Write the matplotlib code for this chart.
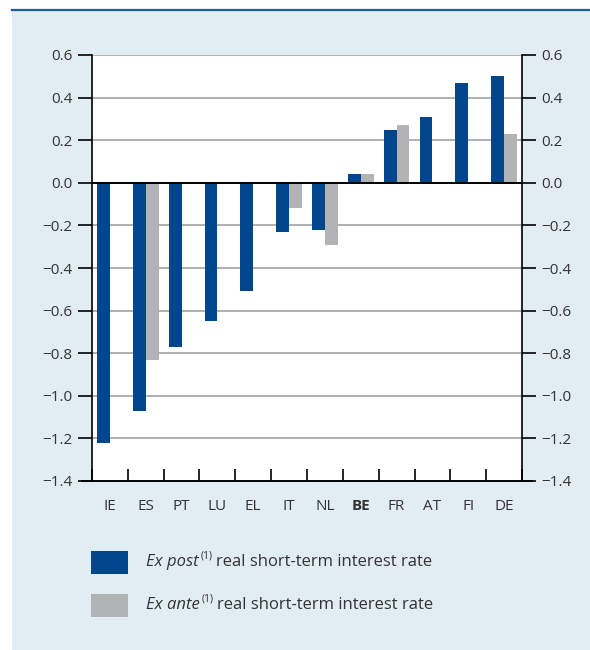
import numpy as np
import matplotlib.pyplot as plt
from matplotlib.patches import Rectangle

# Data
countries = ['IE', 'ES', 'PT', 'LU', 'EL', 'IT', 'NL', 'BE', 'FR', 'AT', 'FI', 'DE']
ex_post = [-1.22, -1.07, -0.77, -0.65, -0.51, -0.23, -0.22, 0.04, 0.25, 0.31, 0.47, 0.50]
ex_ante = [np.nan, -0.83, np.nan, np.nan, np.nan, -0.12, -0.29, 0.04, 0.27, np.nan, np.nan, 0.23]
y_ticks = [0.6, 0.4, 0.2, 0.0, -0.2, -0.4, -0.6, -0.8, -1.0, -1.2, -1.4]

blue = '#00468B'
grey = '#B2B3B5'
panel = '#E1ECF3'
txt = '#333333'

plt.rcParams['font.family'] = ['Open Sans', 'DejaVu Sans']

W, H = 590, 650
fig = plt.figure(figsize=(W / 100, H / 100), dpi=100)
fig.patch.set_facecolor('white')

# light blue panel with dark blue top rule
fig.patches.append(Rectangle((12 / W, 0), 1 - 12 / W, 1 - 10 / H, transform=fig.transFigure,
                             facecolor=panel, edgecolor='none', zorder=-10))
fig.add_artist(plt.Line2D([12 / W, 1], [1 - 10 / H, 1 - 10 / H], color='#1F5A9A', lw=1.6))

ax = fig.add_axes([92 / W, 1 - 481 / H, 430 / W, 426 / H])
ax.set_facecolor('white')

x = np.arange(len(countries))
w = 0.36
ax.bar(x - w / 2, ex_post, width=w, color=blue, zorder=3)
ax.bar(x + w / 2, ex_ante, width=w, color=grey, zorder=3)

ax.set_xlim(-0.5, len(countries) - 0.5)
ax.set_ylim(-1.4, 0.6)

for v in y_ticks:
    if v == 0:
        ax.axhline(0, color='black', lw=1.4, zorder=4)
    elif v != -1.4:
        ax.axhline(v, color='#B0B0B0', lw=1.4, zorder=1)

ax.spines['top'].set_visible(False)
for s in ['left', 'right', 'bottom']:
    ax.spines[s].set_color('black')
    ax.spines[s].set_linewidth(1.2)

ax.set_yticks(y_ticks)
ax.set_yticklabels([f'{v:.1f}'.replace('-', '\u2212') for v in y_ticks])
ax.tick_params(axis='y', which='both', direction='out', length=10, width=1.2,
               labelsize=11, colors='black', labelcolor=txt, left=True, right=True,
               labelleft=True, labelright=True, pad=4)

ax.set_xticks(x)
ax.set_xticklabels(countries)
ax.tick_params(axis='x', which='major', length=0, pad=13, labelsize=11, labelcolor=txt)
ax.set_xticks(np.arange(-0.5, len(countries) + 0.5, 1), minor=True)
ax.tick_params(axis='x', which='minor', direction='in', length=9, width=1.2, color='black')
for lab in ax.get_xticklabels():
    if lab.get_text() == 'BE':
        lab.set_fontweight('bold')

# extend the bottom rule slightly past the spines
ax.plot([-0.5 - 10 / 35.8, len(countries) - 0.5 + 10 / 35.8], [-1.4, -1.4], color='black',
        lw=1.2, clip_on=False, zorder=5)

# legend drawn by hand
fig.canvas.draw()
renderer = fig.canvas.get_renderer()


def legend_row(y_px, color, word):
    fig.patches.append(Rectangle((91 / W, 1 - (y_px + 11.5) / H), 37 / W, 23 / H,
                                 transform=fig.transFigure, facecolor=color, edgecolor='none'))
    x0 = 146
    t1 = fig.text(x0 / W, 1 - y_px / H, word, style='italic', fontsize=12, color=txt,
                  va='center', ha='left')
    bb = t1.get_window_extent(renderer)
    x1 = bb.x1 + 2
    t2 = fig.text(x1 / W, 1 - (y_px - 6) / H, '(1)', fontsize=7.5, color=txt,
                  va='center', ha='left')
    bb2 = t2.get_window_extent(renderer)
    fig.text((bb2.x1 + 3) / W, 1 - y_px / H, 'real short-term interest rate', fontsize=12,
             color=txt, va='center', ha='left')


legend_row(562, blue, 'Ex post')
legend_row(605, grey, 'Ex ante')

fig.savefig('out.png', dpi=100, facecolor=fig.get_facecolor())
